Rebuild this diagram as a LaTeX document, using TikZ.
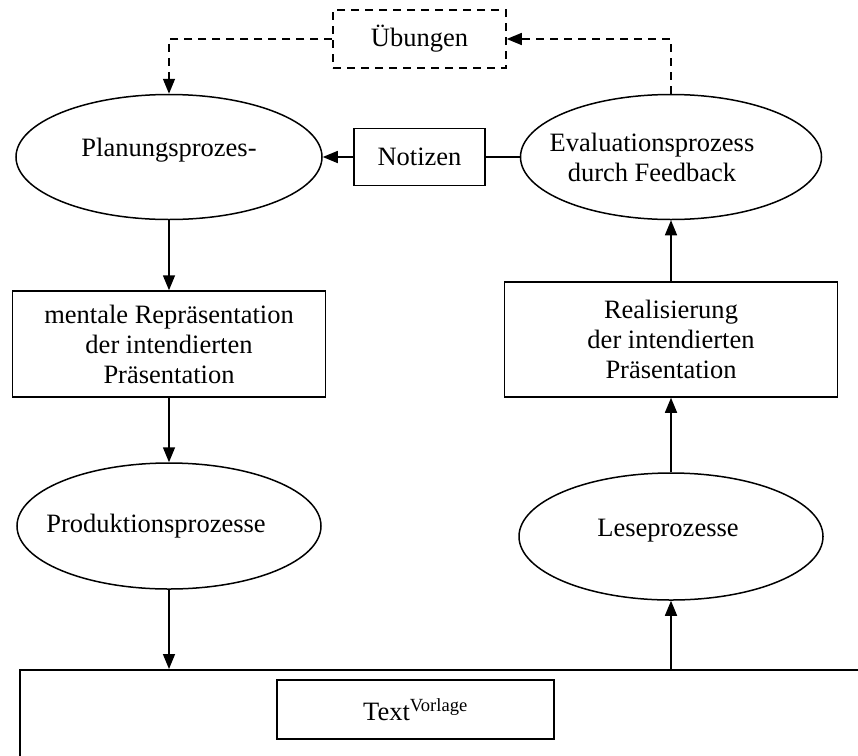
\documentclass[tikz,border=0pt]{standalone}
\usepackage{fontspec}
\setmainfont{Liberation Serif}
\usepackage{tikz}
\usetikzlibrary{shapes.geometric,arrows.meta,positioning,calc}
\tikzset{
  pz_box/.style={
    draw, rectangle, line width=1.5pt, inner sep=0pt,
    text centered, align=center
  },
  pz_ell/.style={
    draw, ellipse, line width=1.5pt, inner sep=0pt
  },
  pz_dash/.style={
    draw, rectangle, line width=1.5pt, inner sep=0pt,
    dash pattern=on 8pt off 6pt
  },
  pz_arr/.style={-{Triangle[length=15pt,width=12pt]}, line width=1.5pt},
  pz_darr/.style={-{Triangle[length=15pt,width=12pt]}, line width=1.5pt, dash pattern=on 8pt off 6pt},
  pz_line/.style={line width=1.5pt},
}

\begin{document}
\begin{tikzpicture}[x=1pt, y=-1pt, font=\fontsize{26.5}{30}\selectfont]

\useasboundingbox (0,0) rectangle (858,755);
\clip (0,0) rectangle (858,755);

% left column
\node[pz_ell, minimum width=306pt, minimum height=125pt,
      label={[yshift=7pt]center:Planungsprozes-}] (plan) at (169,157) {};
\node[pz_box, minimum width=313pt, minimum height=106pt] (ment) at (169,344)
      {mentale Repräsentation\\der intendierten\\Präsentation};
\node[pz_ell, minimum width=304pt, minimum height=126pt,
      label={[xshift=-13pt]center:Produktionsprozesse}] (prod) at (169,526) {};

% right column
\node[pz_ell, minimum width=301pt, minimum height=125pt,
      label={[xshift=-19pt,align=center]center:Evaluationsprozess\\durch Feedback}] (eval) at (671,157) {};
\node[pz_box, minimum width=333pt, minimum height=115pt] (real) at (671,339.5)
      {Realisierung\\der intendierten\\Präsentation};
\node[pz_ell, minimum width=304pt, minimum height=127pt,
      label={[xshift=-3pt,yshift=6pt]center:Leseprozesse}] (lese) at (671,536.5) {};

% middle
\node[pz_dash, minimum width=173pt, minimum height=58pt] (ueb) at (419.5,39) {Übungen};
\node[pz_box, minimum width=131pt, minimum height=57pt] (notiz) at (419.5,157) {Notizen};

% text medium
\node[pz_box, anchor=north west, minimum width=900pt, minimum height=150pt] (medium) at (19,669) {};
\node[pz_box, minimum width=277pt, minimum height=59pt] (vorl) at (415.5,709.5)
      {Text\textsuperscript{Vorlage}};

% main flow
\draw[pz_arr] (plan.south) -- (ment.north);
\draw[pz_arr] (ment.south) -- (prod.north);
\draw[pz_arr] (prod.south) -- (prod.south |- medium.north);
\draw[pz_arr] (lese.south |- medium.north) -- (lese.south);
\draw[pz_arr] (lese.north) -- (real.south);
\draw[pz_arr] (real.north) -- (eval.south);
\draw[pz_line] (eval.west) -- (notiz.east);
\draw[pz_arr] (notiz.west) -- (plan.east);

% feedback loop
\draw[pz_darr] (eval.north) |- (ueb.east);
\draw[pz_darr] (ueb.west) -| (plan.north);

\end{tikzpicture}
\end{document}
